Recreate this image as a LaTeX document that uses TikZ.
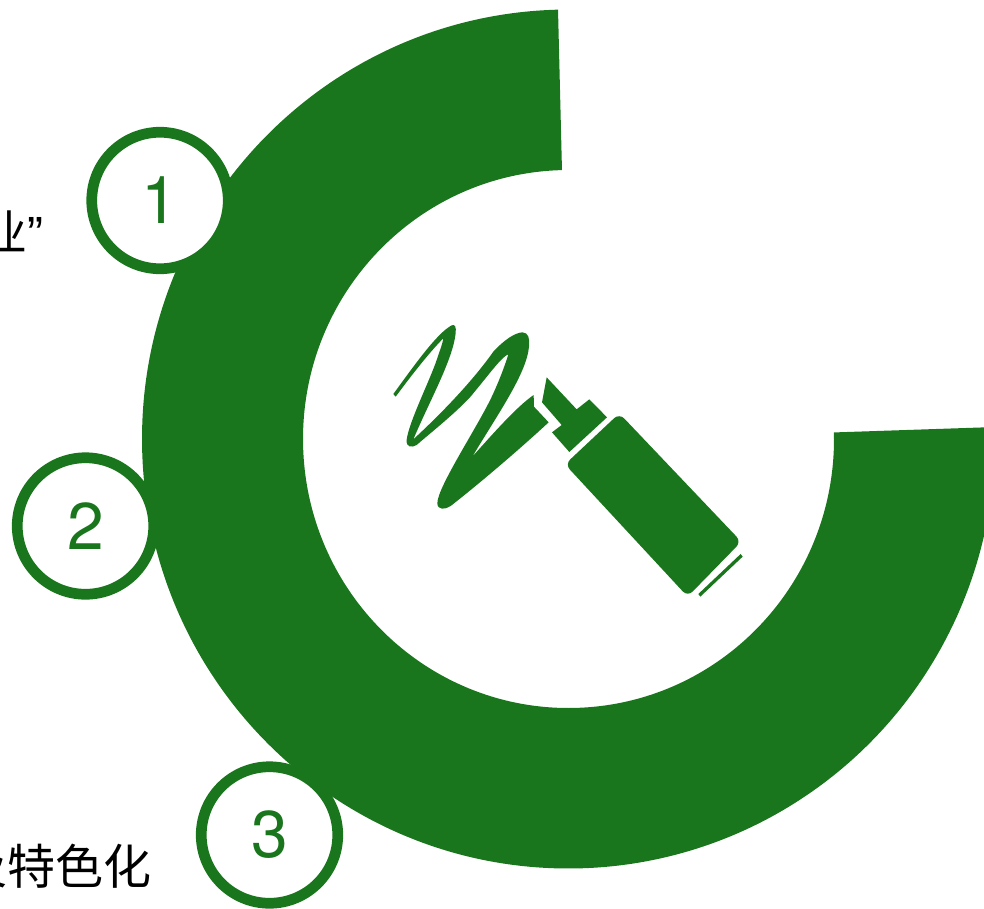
\documentclass[tikz,border=0pt]{standalone}
\usetikzlibrary{calc}
\usepackage{fontspec}
\setmainfont{Liberation Sans}
\newfontfamily\cjk{Noto Sans CJK SC}
\newfontfamily\digits{TeX Gyre Heros}
\definecolor{leaf}{RGB}{26,118,28}
\tikzset{
  badge/.style={circle,draw=leaf,line width=10.7pt,fill=white,minimum size=136.5pt,inner sep=0pt,text=leaf,font=\digits\fontsize{66}{66}\selectfont},
  caption/.style={inner sep=0pt,text=black,font=\fontsize{48}{48}\selectfont},
  zoomA/.style={shift={(380,310)},x=0.3333pt,y=-0.3333pt},
  zoomB/.style={shift={(530,370)},x=0.3333pt,y=-0.3333pt}
}
\begin{document}
\begin{tikzpicture}[x=1pt,y=-1pt]
\useasboundingbox (0,0) rectangle (984,908);
\clip (0,0) rectangle (984,908);
\coordinate (c) at (568.5,439);
% ring
\fill[leaf] (c) ++(-91.41:426.5 and 429.5) arc[start angle=-91.41,end angle=-361.6,x radius=426.5,y radius=429.5]
  -- ($(c)+(-361.4:265.5 and 269)$) arc[start angle=-361.4,end angle=-91.41,x radius=265.5,y radius=269] -- cycle;
% scribble
\begin{scope}[zoomA]
\fill[leaf] (40,252)
  .. controls (100,170) and (170,70) .. (215,46)
  .. controls (225,42) and (229,50) .. (227,70)
  .. controls (218,150) and (150,270) .. (100,388)
  .. controls (190,305) and (280,210) .. (340,125)
  .. controls (372,90) and (405,68) .. (427,67)
  .. controls (445,67) and (450,85) .. (447,110)
  .. controls (440,190) and (355,310) .. (277,440)
  .. controls (340,370) and (410,290) .. (461,255)
  -- (462,290) -- (506,337)
  .. controls (400,435) and (280,535) .. (212,588)
  .. controls (195,600) and (172,600) .. (172,580)
  .. controls (172,530) and (300,340) .. (340,250)
  .. controls (365,195) and (380,150) .. (385,133)
  .. controls (365,140) and (330,190) .. (270,262)
  .. controls (220,315) and (150,370) .. (110,405)
  .. controls (95,414) and (78,412) .. (80,390)
  .. controls (85,340) and (150,210) .. (170,150)
  .. controls (180,120) and (188,100) .. (190,85)
  .. controls (150,125) and (95,195) .. (47,260)
  -- cycle;
\end{scope}
% marker
\begin{scope}[zoomB]
\fill[leaf] (50,22) -- (140,118) -- (178,88) -- (231,142) -- (118,246) -- (66,187) -- (95,165) -- (36,97) -- cycle;
\fill[leaf,rounded corners=7pt] (268,130) -- (634,515) -- (473,680) -- (105,283) -- cycle;
\fill[leaf] (505,672) -- (632,552) -- (638,560) -- (511,680) -- cycle;
\end{scope}
% labels
\node[caption,anchor=base east] (capA) at (44,250) {{\cjk 业}”};
\node[caption,anchor=base east] (capB) at (152,884) {\cjk 及特色化};
% badges
\node[badge] (one) at (160,200.5) {1};
\node[badge] (two) at (85.5,526) {2};
\node[badge] (three) at (269.5,835) {3};
\end{tikzpicture}
\end{document}
